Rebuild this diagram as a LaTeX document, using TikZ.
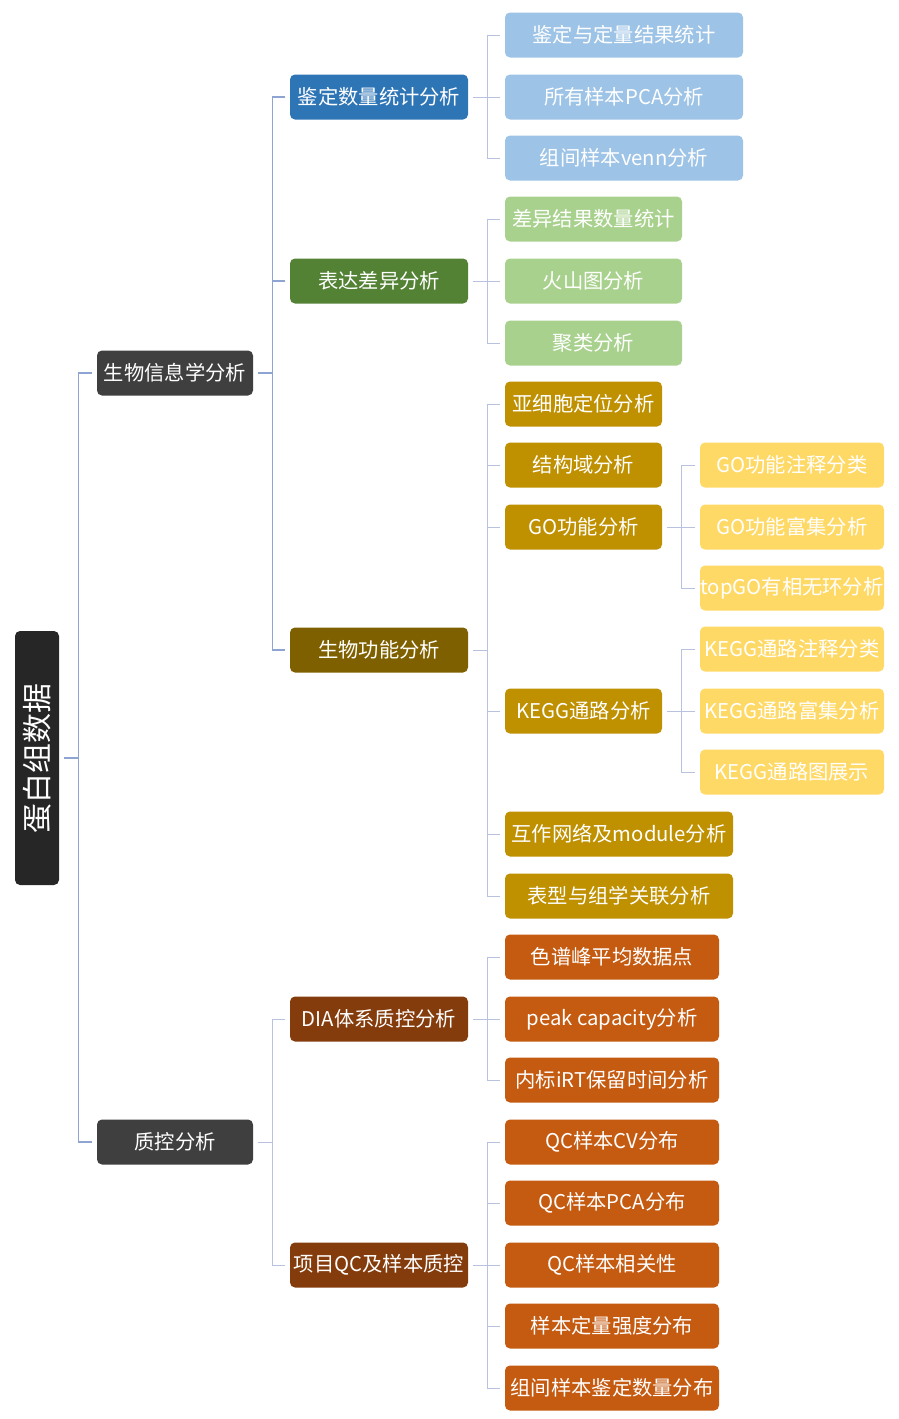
\documentclass[tikz,border=0pt]{standalone}
\usepackage{fontspec}
\newfontfamily\cjk{Noto Sans CJK SC}
\definecolor{cRoot}{HTML}{262626}
\definecolor{cL1}{HTML}{3F3F3F}
\definecolor{cBlue}{HTML}{2E75B6}
\definecolor{cGreen}{HTML}{548235}
\definecolor{cOlive}{HTML}{7F6000}
\definecolor{cBrown}{HTML}{843C0C}
\definecolor{cLBlue}{HTML}{9DC3E6}
\definecolor{cLGreen}{HTML}{A9D18E}
\definecolor{cGold}{HTML}{BF9000}
\definecolor{cYellow}{HTML}{FFD966}
\definecolor{cOrange}{HTML}{C55A11}
\definecolor{cLine1}{HTML}{8EA4D2}
\definecolor{cLine2}{HTML}{B8C2DE}
\tikzset{
  box/.style={rounded corners=5pt, minimum height=45pt, inner sep=0pt, text=white,
    font=\cjk\fontsize{20.3}{23}\selectfont},
  lone/.style={box, fill=cL1, minimum width=156pt},
  ltwo/.style={box, minimum width=178pt},
  conna/.style={draw=cLine1, line width=1.2pt},
  connb/.style={draw=cLine2, line width=1pt},
}
\begin{document}
\begin{tikzpicture}[x=1pt,y=-1pt]
\useasboundingbox (0,0) rectangle (899,1419);
% root
\node[box, fill=cRoot, rotate=90, minimum width=254pt, minimum height=44pt,
  font=\cjk\fontsize{30}{33}\selectfont] (root) at (37,758) {蛋白组数据};
% level 1
\node[lone] (bio) at (175,373) {生物信息学分析};
\node[lone] (qc) at (175,1142) {质控分析};
% level 2
\node[ltwo, fill=cBlue] (jd) at (379,97) {鉴定数量统计分析};
\node[ltwo, fill=cGreen] (bd) at (379,281) {表达差异分析};
\node[ltwo, fill=cOlive] (sw) at (379,650) {生物功能分析};
\node[ltwo, fill=cBrown] (dia) at (379,1019) {DIA体系质控分析};
\node[ltwo, fill=cBrown] (xm) at (379,1265) {项目QC及样本质控};
% level 3 blue
\node[box, fill=cLBlue, minimum width=238pt] (a1) at (624,35) {鉴定与定量结果统计};
\node[box, fill=cLBlue, minimum width=238pt] (a2) at (624,97) {所有样本PCA分析};
\node[box, fill=cLBlue, minimum width=238pt] (a3) at (624,158) {组间样本venn分析};
% level 3 green
\node[box, fill=cLGreen, minimum width=177pt] (b1) at (593.5,219) {差异结果数量统计};
\node[box, fill=cLGreen, minimum width=177pt] (b2) at (593.5,281) {火山图分析};
\node[box, fill=cLGreen, minimum width=177pt] (b3) at (593.5,343) {聚类分析};
% level 3 gold
\node[box, fill=cGold, minimum width=157pt] (c1) at (583.5,404) {亚细胞定位分析};
\node[box, fill=cGold, minimum width=157pt] (c2) at (583.5,465) {结构域分析};
\node[box, fill=cGold, minimum width=157pt] (c3) at (583.5,527) {GO功能分析};
\node[box, fill=cGold, minimum width=157pt] (c4) at (583.5,711) {KEGG通路分析};
\node[box, fill=cGold, minimum width=228pt] (c5) at (619,834) {互作网络及module分析};
\node[box, fill=cGold, minimum width=228pt] (c6) at (619,896) {表型与组学关联分析};
% level 4 yellow
\node[box, fill=cYellow, minimum width=184pt] (g1) at (792,465) {GO功能注释分类};
\node[box, fill=cYellow, minimum width=184pt] (g2) at (792,527) {GO功能富集分析};
\node[box, fill=cYellow, minimum width=184pt] (g3) at (792,588) {topGO有相无环分析};
\node[box, fill=cYellow, minimum width=184pt] (k1) at (792,649) {KEGG通路注释分类};
\node[box, fill=cYellow, minimum width=184pt] (k2) at (792,711) {KEGG通路富集分析};
\node[box, fill=cYellow, minimum width=184pt] (k3) at (792,772) {KEGG通路图展示};
% level 3 orange
\node[box, fill=cOrange, minimum width=214pt] (d1) at (612,957) {色谱峰平均数据点};
\node[box, fill=cOrange, minimum width=214pt] (d2) at (612,1019) {peak capacity分析};
\node[box, fill=cOrange, minimum width=214pt] (d3) at (612,1080) {内标iRT保留时间分析};
\node[box, fill=cOrange, minimum width=214pt] (e1) at (612,1142) {QC样本CV分布};
\node[box, fill=cOrange, minimum width=214pt] (e2) at (612,1203) {QC样本PCA分布};
\node[box, fill=cOrange, minimum width=214pt] (e3) at (612,1265) {QC样本相关性};
\node[box, fill=cOrange, minimum width=214pt] (e4) at (612,1326) {样本定量强度分布};
\node[box, fill=cOrange, minimum width=214pt] (e5) at (612,1388) {组间样本鉴定数量分布};
% connectors
\draw[conna] ([xshift=5pt]root.south) -- ++(14,0) coordinate (tR);
\foreach \c in {bio,qc} \draw[conna] (tR) |- ([xshift=-5pt]\c.west);
\draw[conna] ([xshift=5pt]bio.east) -- ++(14,0) coordinate (tB);
\foreach \c in {jd,bd,sw} \draw[conna] (tB) |- ([xshift=-5pt]\c.west);
\draw[connb] ([xshift=5pt]qc.east) -- ++(14,0) coordinate (tQ);
\foreach \c in {dia,xm} \draw[connb] (tQ) |- ([xshift=-5pt]\c.west);
\draw[connb] ([xshift=5pt]jd.east) -- ++(14,0) coordinate (tJ);
\foreach \c in {a1,a2,a3} \draw[connb] (tJ) |- ([xshift=-5pt]\c.west);
\draw[connb] ([xshift=5pt]bd.east) -- ++(14,0) coordinate (tD);
\foreach \c in {b1,b2,b3} \draw[connb] (tD) |- ([xshift=-5pt]\c.west);
\draw[connb] ([xshift=5pt]sw.east) -- ++(14,0) coordinate (tS);
\foreach \c in {c1,c2,c3,c4,c5,c6} \draw[connb] (tS) |- ([xshift=-5pt]\c.west);
\draw[connb] ([xshift=5pt]c3.east) -- ++(14,0) coordinate (tG);
\foreach \c in {g1,g2,g3} \draw[connb] (tG) |- ([xshift=-5pt]\c.west);
\draw[connb] ([xshift=5pt]c4.east) -- ++(14,0) coordinate (tK);
\foreach \c in {k1,k2,k3} \draw[connb] (tK) |- ([xshift=-5pt]\c.west);
\draw[connb] ([xshift=5pt]dia.east) -- ++(14,0) coordinate (tI);
\foreach \c in {d1,d2,d3} \draw[connb] (tI) |- ([xshift=-5pt]\c.west);
\draw[connb] ([xshift=5pt]xm.east) -- ++(14,0) coordinate (tX);
\foreach \c in {e1,e2,e3,e4,e5} \draw[connb] (tX) |- ([xshift=-5pt]\c.west);
\end{tikzpicture}
\end{document}
